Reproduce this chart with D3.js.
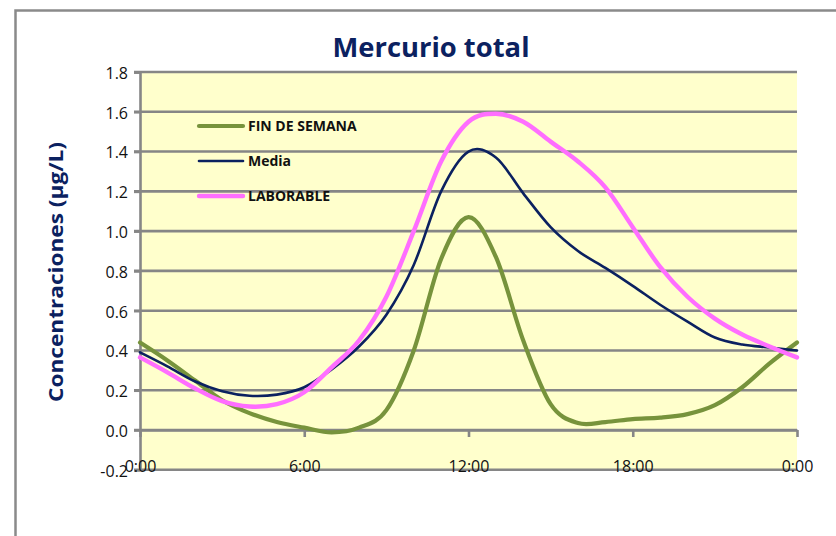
<!DOCTYPE html>
<html>
<head>
<meta charset="utf-8">
<script src="https://cdn.jsdelivr.net/npm/d3@7"></script>
<style>
  html, body { margin: 0; padding: 0; background: #ffffff; }
  svg { display: block; }
</style>
</head>
<body>
<svg id="chart" width="836" height="536"></svg>
<script>
// ---- data ----
const hours = [0,1,2,3,4,5,6,7,8,9,10,11,12,13,14,15,16,17,18,19,20,21,22,23,24];
const finDeSemana = [0.44,0.35,0.25,0.15,0.085,0.04,0.012,-0.012,0.012,0.10,0.40,0.86,1.07,0.87,0.45,0.13,0.035,0.04,0.055,0.062,0.08,0.125,0.215,0.335,0.44];
const media = [0.39,0.32,0.245,0.195,0.172,0.178,0.215,0.305,0.42,0.58,0.83,1.20,1.40,1.37,1.19,1.02,0.90,0.815,0.725,0.63,0.545,0.465,0.43,0.415,0.40];
const laborable = [0.365,0.29,0.21,0.145,0.118,0.13,0.19,0.315,0.45,0.67,1.00,1.35,1.55,1.59,1.55,1.45,1.35,1.22,1.02,0.82,0.67,0.56,0.48,0.42,0.365];
const seriesNames = ["FIN DE SEMANA", "Media", "LABORABLE"];
const yTicks = [-0.2,0,0.2,0.4,0.6,0.8,1.0,1.2,1.4,1.6,1.8];
const yTickLabels = ["-0.2","0.0","0.2","0.4","0.6","0.8","1.0","1.2","1.4","1.6","1.8"];
const xTicks = [0,6,12,18,24];
const xTickLabels = ["0:00","6:00","12:00","18:00","0:00"];
const titleText = "Mercurio total";
const yTitleText = "Concentraciones (µg/L)";

const seriesData = [finDeSemana, media, laborable];
const colors = ["#77933C", "#0B2160", "#FF6EFF"];
const widths = [4.2, 2.6, 4.4];

const svg = d3.select("#chart");

// outer chart frame
svg.append("rect")
  .attr("x", 15.5).attr("y", 10.5)
  .attr("width", 900).attr("height", 600)
  .attr("fill", "#ffffff")
  .attr("stroke", "#8a8a8a").attr("stroke-width", 2.5);

const x = d3.scaleLinear().domain([0, 24]).range([140, 797]);
const y = d3.scaleLinear().domain([-0.2, 1.8]).range([469.8, 72]);

// plot area
svg.append("rect")
  .attr("x", x(0)).attr("y", y(1.8))
  .attr("width", x(24) - x(0)).attr("height", y(-0.2) - y(1.8))
  .attr("fill", "#FFFFCC");

// gridlines
svg.append("g").selectAll("line").data(yTicks).join("line")
  .attr("x1", x(0) - 6).attr("x2", x(24))
  .attr("y1", d => y(d)).attr("y2", d => y(d))
  .attr("stroke", "#868686").attr("stroke-width", 2.6);

// y axis
const yAxis = d3.axisLeft(y).tickValues(yTicks).tickSize(6).tickPadding(6)
  .tickFormat((d, i) => yTickLabels[i]);
const gy = svg.append("g").attr("transform", `translate(${x(0)},0)`).call(yAxis);
gy.select(".domain").attr("stroke", "#868686").attr("stroke-width", 2.6);
gy.selectAll(".tick line").attr("stroke", "#868686").attr("stroke-width", 2.6);
gy.selectAll(".tick text")
  .attr("font-family", "Open Sans, sans-serif").attr("font-size", 16)
  .attr("fill", "#111").attr("dy", "0.4em").attr("x", -12);

// x axis at value 0
const xAxis = d3.axisBottom(x).tickValues(xTicks).tickSize(7).tickSizeOuter(0)
  .tickFormat((d, i) => xTickLabels[i]);
const gx = svg.append("g").attr("transform", `translate(0,${y(0)})`).call(xAxis);
gx.select(".domain").attr("stroke", "#868686").attr("stroke-width", 2.6);
gx.selectAll(".tick line").attr("stroke", "#868686").attr("stroke-width", 2.6);
gx.selectAll(".tick text")
  .attr("font-family", "Open Sans, sans-serif").attr("font-size", 16)
  .attr("fill", "#111").attr("y", 36).attr("dy", "0.38em");

// lines (Excel-style smoothing)
const line = d3.line()
  .x((d, i) => x(hours[i]))
  .y(d => y(d))
  .curve(d3.curveCardinal.tension(0));

svg.append("g").selectAll("path").data(seriesData).join("path")
  .attr("d", d => line(d))
  .attr("fill", "none")
  .attr("stroke", (d, i) => colors[i])
  .attr("stroke-width", (d, i) => widths[i])
  .attr("stroke-linejoin", "round")
  .attr("stroke-linecap", "round");

// legend
const legendRows = [126, 161, 196];
const lg = svg.append("g");
seriesNames.forEach((name, i) => {
  lg.append("line")
    .attr("x1", 199).attr("x2", 243)
    .attr("y1", legendRows[i]).attr("y2", legendRows[i])
    .attr("stroke", colors[i]).attr("stroke-width", widths[i])
    .attr("stroke-linecap", "round");
  lg.append("text")
    .attr("x", 248).attr("y", legendRows[i]).attr("dy", "0.36em")
    .attr("font-family", "Open Sans, sans-serif").attr("font-weight", "bold")
    .attr("font-size", 14).attr("fill", "#111")
    .text(name);
});

// title
svg.append("text")
  .attr("x", 431).attr("y", 57).attr("text-anchor", "middle")
  .attr("font-family", "Open Sans, sans-serif").attr("font-weight", "bold")
  .attr("font-size", 26).attr("fill", "#0B2160")
  .attr("textLength", 197).attr("lengthAdjust", "spacingAndGlyphs")
  .text(titleText);

// y axis title
svg.append("text")
  .attr("transform", "translate(63,272) rotate(-90)")
  .attr("text-anchor", "middle")
  .attr("font-family", "Open Sans, sans-serif").attr("font-weight", "bold")
  .attr("font-size", 19).attr("fill", "#0B2160")
  .attr("textLength", 260).attr("lengthAdjust", "spacingAndGlyphs")
  .text(yTitleText);
</script>
</body>
</html>
